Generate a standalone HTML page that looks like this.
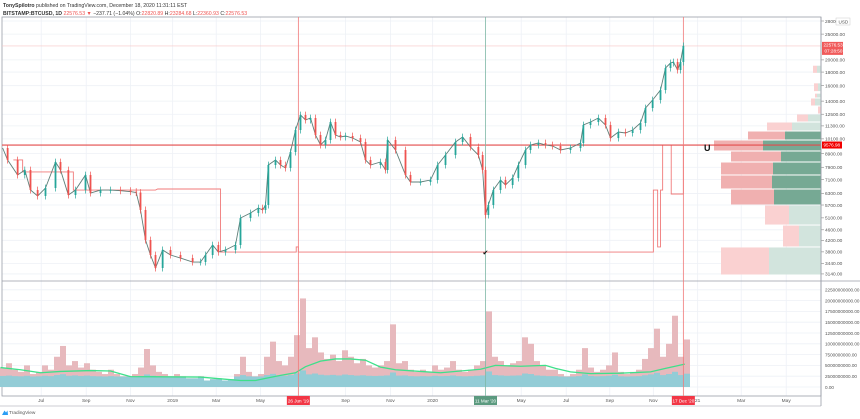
<!DOCTYPE html>
<html><head><meta charset="utf-8">
<style>
html,body{margin:0;padding:0;background:#fff;width:860px;height:419px;overflow:hidden;font-family:"Liberation Sans",sans-serif}
svg text{font-family:"Liberation Sans",sans-serif}
</style></head>
<body>
<svg id="c" width="860" height="419" viewBox="0 0 860 419" xmlns="http://www.w3.org/2000/svg">
<text x="3" y="7" font-size="5.2" fill="#333"><tspan font-weight="bold">TonySpilotro</tspan> published on TradingView.com, December 18, 2020 11:31:11 EST</text>
<text x="3" y="15" font-size="5.2" fill="#333"><tspan font-weight="bold">BITSTAMP:BTCUSD, 1D</tspan> <tspan fill="#ef5350">22576.53 ▼</tspan> −237.71 (−1.04%) O:<tspan fill="#ef5350">22820.89</tspan> H:<tspan fill="#ef5350">23284.68</tspan> L:<tspan fill="#ef5350">22360.93</tspan> C:<tspan fill="#ef5350">22576.53</tspan></text>
<g id="grid"></g>
<g id="profile"></g>
<g id="vol"></g>
<g id="price"></g>
<g id="axes"></g>
</svg>
<script>
// ---- data ----
const closeDays=[3,10,24,34,42,52,63,77,84,95,105,119,126,140,154,168,182,190,196,203,210,217,227,238,252,269,280,287,297,305,315,329,336,350,361,367,371,375,385,392,399,406,413,420,427,434,441,448,455,462,469,476,483,493,504,511,518,532,539,542,553,567,574,588,602,612,623,637,647,658,669,675,679,683,690,700,707,717,725,735,742,753,763,773,784,798,812,816,826,837,847,854,865,875,885,896,903,913,924,931,938,942,948,952,956];
const closes=[9333,8414,7390,7717,6489,6163,6603,8269,7717,6215,6489,7390,6323,6489,6489,6450,6400,6350,5460,4211,3698,3305,3863,3698,3603,3481,3481,3698,4033,3794,3863,4033,5094,5320,5555,5460,5701,8057,8414,8057,7852,9016,10906,12418,11892,12099,10444,9580,10002,11688,10444,10265,10354,10175,9831,8414,8057,8269,7717,10002,9173,7390,6955,6955,7076,8057,8784,9831,10265,9413,8784,7717,5228,5701,6489,7076,6777,7203,8057,9173,9580,9747,9580,9496,9173,9333,9747,11388,11688,12099,11388,10175,10719,10626,10906,11587,13190,14137,15414,18645,19470,19640,18325,19640,22576];
const volumes=[4.5,5.5,4,3.5,5,3,3.5,5,4,7,9.5,5,6,4.5,5.5,4,3.5,3,4,3,2.5,2.5,3,4.5,8.8,5,3.5,3,2.5,3,2.5,2,2,2.5,1.5,1.8,2,1.5,1.8,3,7,3.5,2.5,3,7,10.5,6,5,7,12,20.5,9,11.5,8,6.5,7.5,6,8.5,7,5.5,6.5,5,4.5,5,6,14.5,5.5,6,4,3.5,4,3.5,5,4,4.5,6,4,3.5,4,5,6,17.5,7,6,5,5.5,6,11.5,10,6,5,4,4,3,2.5,3,4,9,4.5,3.5,4,5,8,3.5,3,3.5,4,6.5,9,13.5,7,10,16.5,7,11];
const maDays=[0,28,56,84,126,154,182,280,308,336,357,371,392,413,427,448,469,490,511,532,553,588,616,644,672,693,728,763,777,798,826,868,910,931,958];
const maValues=[4.5,4,3.3,3.6,3.8,3.7,2.4,2.3,1.9,1.5,1.5,2,2.7,3.3,4.7,6,6.5,6.5,6.2,4.6,4,3.6,3.3,3.7,4.1,5,4.8,5,4.3,3.5,3.1,3.2,3.5,4.3,5.3];
const stepDays=[18,31,31,102,102,217,220,308,308,414,414,417,417,914,914,920,920,924,924,927,927,939,939,956,956];
const stepPrices=[8414,8414,7585,7585,6489,6489,6547,6547,3794,3794,3965,3965,3794,3794,6489,6489,3965,3965,6489,6489,9580,9580,6269,6269,9580];
const binLo=[3111,3965,4793,5701,6547,7390,8269,9095,10002,10811,11688,12524,13423,14384,15200,17800];
const binHi=[3965,4793,5701,6547,7390,8269,9095,10002,10811,11688,12524,13423,14384,15000,16400,19100];
const binSell=[48,16,24,43,51,52,50,49,37,25,11,3,4,2,4,4];
const binBuy=[52,22,32,47,49,48,40,58,36,29,13,0,6,4,3,4];
const priceTicks=[28000,25000,20000,18000,16000,14000,12500,11300,10100,8900,7900,7100,6300,5700,5100,4600,4200,3800,3440,3140];
const volTicks=[0,2.5,5,7.5,10,12.5,15,17.5,20,22.5];
const timeTickDays=[57,120,182,241,302,364,483,546,605,729,792,853,914,976,1037,1100];
const timeTickLabels=['Jul','Sep','Nov','2019','Mar','May','Sep','Nov','2020','May','Jul','Sep','Nov','21','Mar','May'];
const lastPrice=22576.53, hLinePrice=9576.98;
const markerDays=[417,679,956];
const markerLabels=["26 Jun '19","11 Mar '20","17 Dec '20"];
const markerColors=['#f23645','#5b9a7f','#f23645'];
const valueAreaLow=5700, valueAreaHigh=10811;

// ---- scales ----
const X=d=>d/1.4+0.5;
const Y=p=>21+Math.log(28000/p)*115.6;
const VY=v=>387-v*4.32;
const NS='http://www.w3.org/2000/svg';
function mk(tag,attrs,parent){const e=document.createElementNS(NS,tag);for(const k in attrs)e.setAttribute(k,attrs[k]);parent.appendChild(e);return e;}
const G=id=>document.getElementById(id);

// grid + frames
const grid=G('grid');
for(const p of priceTicks){const l=mk('line',{x1:2,x2:821,y1:Y(p),y2:Y(p),stroke:'#eef1f6','stroke-width':0.8},grid);

}
for(const v of volTicks){const l=mk('line',{x1:2,x2:821,y1:VY(v),y2:VY(v),stroke:'#eef1f6','stroke-width':0.8},grid);

}
for(const d of timeTickDays){const l=mk('line',{x1:X(d),x2:X(d),y1:17,y2:396,stroke:'#eef1f6','stroke-width':0.8},grid);

}
const frame=mk('rect',{x:2,y:17,width:819,height:379,fill:'none',stroke:'#9a9ea8','stroke-width':0.8},grid);


const sep=mk('line',{x1:2,x2:860,y1:281,y2:281,stroke:'#9a9ea8','stroke-width':0.8},grid);



// volume profile
const prof=G('profile');
for(let i=0;i<binLo.length;i++){
  const y1=Y(binHi[i])+0.5,y2=Y(binLo[i])-0.5,h=Math.max(1,y2-y1);
  const dark=binLo[i]>=valueAreaLow-1&&binHi[i]<=valueAreaHigh+1;
  const bx=821-binBuy[i];
  const b=mk('rect',{x:bx,y:y1,width:binBuy[i],height:h,fill:dark?'#76a994':'#d2e4dd'},prof);
  
  
  const s=mk('rect',{x:bx-binSell[i],y:y1,width:binSell[i],height:h,fill:dark?'#f0b0b0':'#fad1d1'},prof);
  
  
}

// volume
const vol=G('vol');
for(let i=0;i<volumes.length;i++){
  const d=i*8.4,x=X(d)-0.5,v=volumes[i];
  const r=mk('rect',{x:x,y:VY(v),width:6,height:387-VY(v),fill:'#e7b9bd'},vol);
  
  
  const t=Math.min(v,2.2+v*0.08);
  const r2=mk('rect',{x:x,y:VY(t),width:6,height:387-VY(t),fill:'#93ccd6'},vol);
  
  
}
const ma=mk('polyline',{points:maDays.map((d,i)=>X(d)+','+VY(maValues[i])).join(' '),fill:'none',stroke:'#3ee08a','stroke-width':1.3},vol);



// price pane
const pr=G('price');
const step=mk('polyline',{points:stepDays.map((d,i)=>X(d)+','+Y(stepPrices[i])).join(' '),fill:'none',stroke:'#f07a7a','stroke-width':0.9},pr);


const hl=mk('line',{x1:2,x2:821,y1:Y(hLinePrice),y2:Y(hLinePrice),stroke:'#e34b4b','stroke-width':1.1},pr);


const tl=mk('line',{x1:2,x2:821,y1:Y(lastPrice),y2:Y(lastPrice),stroke:'#f7c6c6','stroke-width':0.6},pr);


for(let i=0;i<markerDays.length;i++){
  const l=mk('line',{x1:X(markerDays[i]),x2:X(markerDays[i]),y1:17,y2:396,stroke:i==1?'#7fb8a6':'#f07a7a','stroke-width':0.8},pr);
  
  
}
const line=mk('polyline',{points:closeDays.map((d,i)=>X(d)+','+Y(closes[i])).join(' '),fill:'none',stroke:'#5f7f79','stroke-width':0.9},pr);


for(let i=1;i<closes.length;i++){
  const o=closes[i-1],c=closes[i],up=c>=o,col=up?'#26a69a':'#ef5350';
  const x=X(closeDays[i]);
  const w=mk('line',{x1:x,x2:x,y1:Y(Math.max(o,c)*1.03),y2:Y(Math.min(o,c)*0.97),stroke:col,'stroke-width':0.7},pr);
  
  
  const yt=Y(Math.max(o,c)),yb=Y(Math.min(o,c));
  const b=mk('rect',{x:x-0.9,y:yt,width:1.8,height:Math.max(0.8,yb-yt),fill:col},pr);
  
  
}
const mag=mk('text',{x:704,y:Y(hLinePrice)+6,'font-size':9,'font-weight':'bold',fill:'#111'},pr);
mag.textContent='U';


const chk=mk('text',{x:X(679)-3,y:Y(3794)+3,'font-size':7,fill:'#111'},pr);
chk.textContent='✔';



// axes
const ax=G('axes');
for(const p of priceTicks){
  const tk=mk('line',{x1:821,x2:824,y1:Y(p),y2:Y(p),stroke:'#888','stroke-width':0.6},ax);
  
  
  const t=mk('text',{x:825,y:Y(p)+1.8,'font-size':4.8,fill:'#555'},ax);
  t.textContent=p.toFixed(2);
  
  
}
for(const v of volTicks){
  const t=mk('text',{x:825,y:VY(v)+1.8,'font-size':4.6,fill:'#555'},ax);
  t.textContent=(v*1e9).toFixed(2);
  
  
}
const axl=mk('line',{x1:821,x2:821,y1:17,y2:406,stroke:'#9a9ea8','stroke-width':0.8},ax);


const tax=mk('line',{x1:0,x2:821,y1:406,y2:406,stroke:'#9a9ea8','stroke-width':0.6},ax);


const usd=mk('rect',{x:836,y:18,width:14,height:7,fill:'#fff',stroke:'#ccc','stroke-width':0.5},ax);


const usdt=mk('text',{x:838.5,y:23.3,'font-size':4.6,fill:'#555'},ax);
usdt.textContent='USD';


for(let i=0;i<timeTickDays.length;i++){
  const t=mk('text',{x:X(timeTickDays[i]),y:402,'font-size':4.8,fill:'#555','text-anchor':'middle'},ax);
  t.textContent=timeTickLabels[i];
  
  
}
for(let i=0;i<markerDays.length;i++){
  const r=mk('rect',{x:X(markerDays[i])-11.5,y:396,width:23,height:9,fill:markerColors[i]},ax);
  
  
  const t=mk('text',{x:X(markerDays[i]),y:402.3,'font-size':4.6,fill:'#fff','text-anchor':'middle'},ax);
  t.textContent=markerLabels[i];
  
  
}
const lp=mk('rect',{x:822,y:Y(lastPrice)-4,width:21,height:13,fill:'#f05a5a'},ax);


const lpt=mk('text',{x:823.5,y:Y(lastPrice)+0.8,'font-size':4.6,fill:'#fff'},ax);
lpt.textContent=lastPrice.toFixed(2);


const cd=mk('text',{x:824.5,y:Y(lastPrice)+6.8,'font-size':4.6,fill:'#fff'},ax);
cd.textContent='07:28:50';


const hb=mk('rect',{x:822,y:Y(hLinePrice)-3.5,width:20,height:7,fill:'#f20000'},ax);


const hbt=mk('text',{x:823.5,y:Y(hLinePrice)+1.7,'font-size':4.6,fill:'#fff'},ax);
hbt.textContent=hLinePrice.toFixed(2);


const logo=mk('text',{x:9,y:414,'font-size':4.8,fill:'#555'},ax);
logo.textContent='TradingView';


const cloud=mk('path',{d:'M2 415 L4.5 410.5 L6 412.5 L7.5 410.5 L8 415 Z',fill:'#2a9df4'},ax);


</script>
</body></html>
